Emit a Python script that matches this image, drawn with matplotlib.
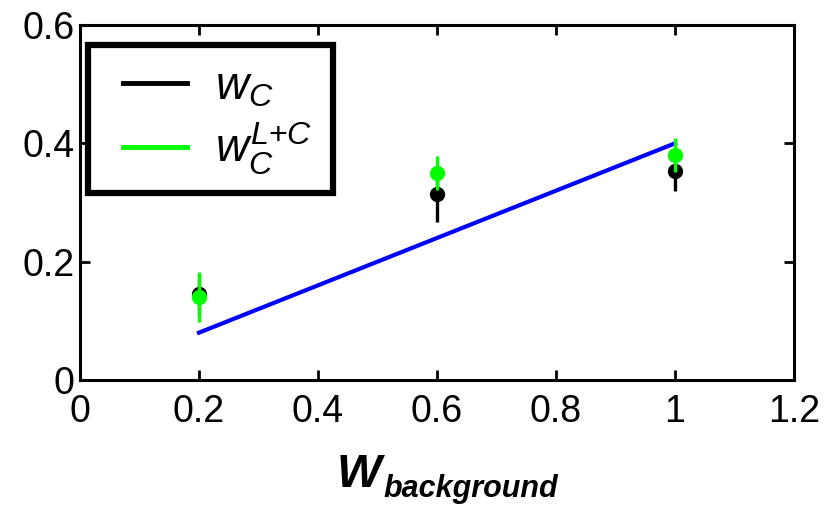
import matplotlib
matplotlib.use("Agg")
import matplotlib.pyplot as plt
from matplotlib.lines import Line2D
from matplotlib.patches import Rectangle

plt.rcParams['font.family'] = ['Liberation Sans', 'DejaVu Sans']
plt.rcParams['mathtext.fontset'] = 'custom'
plt.rcParams['mathtext.rm'] = 'Liberation Sans'
plt.rcParams['mathtext.it'] = 'Liberation Sans:italic'
plt.rcParams['mathtext.bf'] = 'Liberation Sans:bold:italic'

# background weights
w_bg = [0.2, 0.6, 1.0]
# estimated weights and errors
wc = [0.145, 0.315, 0.353]
wc_err = [0.035, 0.048, 0.034]
wc_lc = [0.140, 0.350, 0.380]
wc_lc_err = [0.042, 0.029, 0.029]
# reference (ideal) line
ideal = [0.08, 0.24, 0.40]

xticks = [0, 0.2, 0.4, 0.6, 0.8, 1.0, 1.2]
xticklabels = ['0', '0.2', '0.4', '0.6', '0.8', '1', '1.2']
yticks = [0, 0.2, 0.4, 0.6]
yticklabels = ['0', '0.2', '0.4', '0.6']

W, H = 837, 511
fig = plt.figure(figsize=(W / 100, H / 100), dpi=100)
ax = fig.add_axes([80 / W, 1 - 380 / H, 714 / W, 355 / H])

green = '#00ff00'
ax.plot(w_bg, ideal, color='#0000ff', lw=3.0, zorder=2)
ax.errorbar(w_bg, wc, yerr=wc_err, fmt='o', color='black', ms=10,
            elinewidth=2.4, capsize=0, zorder=3)
ax.errorbar(w_bg, wc_lc, yerr=wc_lc_err, fmt='o', color=green, ms=10,
            elinewidth=2.4, capsize=0, zorder=4)

ax.set_xlim(0, 1.2)
ax.set_ylim(0, 0.6)
ax.set_xticks(xticks)
ax.set_xticklabels(xticklabels)
ax.set_yticks(yticks)
ax.set_yticklabels(yticklabels)
ax.tick_params(direction='in', length=7, width=2, top=True, right=True,
               labelsize=27)
ax.tick_params(axis='x', pad=10)
ax.tick_params(axis='y', pad=4)
for s in ax.spines.values():
    s.set_linewidth(2.2)

# x-axis label: large bold italic W with a smaller subscript
fig.text(359 / W, 1 - 487 / H, 'W', fontsize=34, fontweight='bold',
         fontstyle='italic', ha='center', va='baseline')
fig.text(383 / W, 1 - 497 / H, 'background', fontsize=22, fontweight='bold',
         fontstyle='italic', ha='left', va='baseline')

# legend frame drawn as a heavy box
box = Rectangle((88 / W, 1 - 193 / H), 245 / W, 148 / H,
                transform=fig.transFigure, facecolor='white',
                edgecolor='black', lw=4.5, zorder=4.9, clip_on=False)
ax.add_patch(box)

handles = [Line2D([], [], color='black', lw=3.5),
           Line2D([], [], color=green, lw=3.5)]
labels = [r'$w_C$', r'$w_C^{L{+}C}$']
leg = ax.legend(handles, labels, loc='upper left',
                bbox_to_anchor=((123 - 80) / 714, 1 - (65.5 - 25) / 355),
                fontsize=33, frameon=False,
                handlelength=1.4, handletextpad=0.6, borderpad=0,
                labelspacing=0.25, borderaxespad=0)
leg.set_zorder(6)

fig.savefig('out.png', dpi=100)
